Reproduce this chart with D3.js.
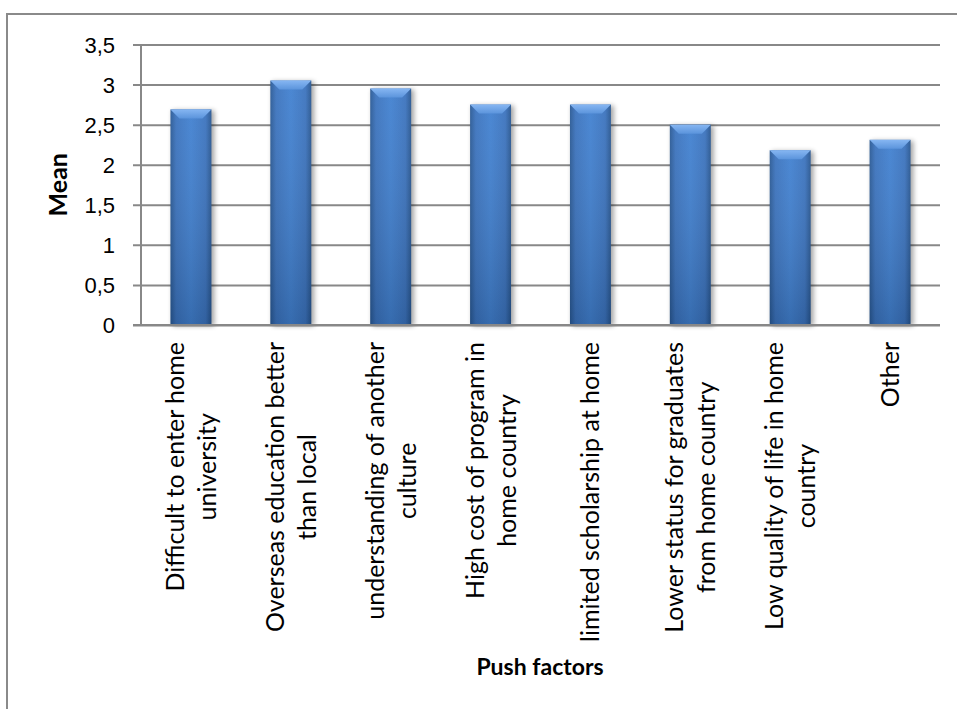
<!DOCTYPE html>
<html>
<head>
<meta charset="utf-8">
<script src="https://cdnjs.cloudflare.com/ajax/libs/d3/7.8.5/d3.min.js"></script>
<style>
  html, body { margin: 0; padding: 0; background: #fff; }
  svg { display: block; font-family: Lato, "Open Sans", sans-serif; }
</style>
</head>
<body>
<div id="chart"></div>
<script>
// push factors, mean score
var categories = [
  ["Difficult to enter home", "university"],
  ["Overseas education better", "than local"],
  ["understanding of another", "culture"],
  ["High cost of program in", "home country"],
  ["limited scholarship at home"],
  ["Lower status for graduates", "from home country"],
  ["Low quality of life in home", "country"],
  ["Other"]
]
var means = [2.69, 3.05, 2.95, 2.75, 2.75, 2.5, 2.18, 2.31]
var yTicks = [0, 0.5, 1, 1.5, 2, 2.5, 3, 3.5]
var yTickLabels = ["0", "0,5", "1", "1,5", "2", "2,5", "3", "3,5"]
var yTitle = "Mean"
var xTitle = "Push factors"

var svgWidth = 957, svgHeight = 709;
var plot = {left: 141, right: 940, top: 44.5, bottom: 325};

var svg = d3.select("#chart").append("svg")
  .attr("width", svgWidth)
  .attr("height", svgHeight);

svg.append("rect").attr("width", svgWidth).attr("height", svgHeight).attr("fill", "#fff");

// outer chart border (right/bottom run off the picture)
svg.append("rect")
  .attr("x", 7).attr("y", 14)
  .attr("width", 1000).attr("height", 760)
  .attr("fill", "none")
  .attr("stroke", "#8a8a8a")
  .attr("stroke-width", 2);

var defs = svg.append("defs");
var hg = defs.append("linearGradient").attr("id", "barH").attr("x1", 0).attr("x2", 1).attr("y1", 0).attr("y2", 0);
[["0%", "#285894"], ["14%", "#3a72bd"], ["50%", "#4080d0"], ["86%", "#3a72bd"], ["100%", "#265590"]]
  .forEach(s => hg.append("stop").attr("offset", s[0]).attr("stop-color", s[1]));
var vg = defs.append("linearGradient").attr("id", "barV").attr("x1", 0).attr("x2", 0).attr("y1", 0).attr("y2", 1);
[["0%", "#ffffff", 0.06], ["100%", "#000000", 0.16]]
  .forEach(s => vg.append("stop").attr("offset", s[0]).attr("stop-color", s[1]).attr("stop-opacity", s[2]));
var tg = defs.append("linearGradient").attr("id", "bevel").attr("x1", 0).attr("x2", 0).attr("y1", 0).attr("y2", 1);
[["0%", "#86b6f2"], ["100%", "#5b94dc"]]
  .forEach(s => tg.append("stop").attr("offset", s[0]).attr("stop-color", s[1]));
var sh = defs.append("filter").attr("id", "shadow").attr("x", "-20%").attr("y", "-10%").attr("width", "150%").attr("height", "130%");
sh.append("feGaussianBlur").attr("stdDeviation", 2.5);

var xScale = d3.scaleBand()
  .domain(d3.range(categories.length))
  .range([plot.left, plot.right])
  .paddingInner(0.59)
  .paddingOuter(0.295);

var yScale = d3.scaleLinear()
  .domain([0, 3.5])
  .range([plot.bottom, plot.top]);

// gridlines + left ticks
var yAxis = d3.axisLeft(yScale)
  .tickValues(yTicks)
  .tickSize(-(plot.right - plot.left))
  .tickSizeOuter(0)
  .tickFormat((d, i) => yTickLabels[i]);

var yg = svg.append("g")
  .attr("transform", `translate(${plot.left},0)`)
  .call(yAxis);
yg.select(".domain").remove();
yg.selectAll(".tick line")
  .attr("x1", -8)
  .attr("stroke", "#888")
  .attr("stroke-width", 2);
yg.selectAll(".tick text")
  .attr("x", -26)
  .attr("dy", "0.35em")
  .attr("fill", "#000")
  .style("font-size", "22px");

// vertical axis line
svg.append("line")
  .attr("x1", plot.left).attr("x2", plot.left)
  .attr("y1", yScale(3.5)).attr("y2", yScale(0))
  .attr("stroke", "#888").attr("stroke-width", 2);

// bars
var bars = svg.append("g").selectAll("g")
  .data(means)
  .enter()
  .append("g");

var bw = xScale.bandwidth();
var bev = 9;

bars.append("rect")
  .attr("x", (d, i) => xScale(i) + 2)
  .attr("y", d => yScale(d) + 1)
  .attr("width", bw + 1)
  .attr("height", d => yScale(0) - yScale(d))
  .attr("fill", "#000")
  .attr("opacity", 0.35)
  .attr("filter", "url(#shadow)");

bars.append("rect")
  .attr("x", (d, i) => xScale(i))
  .attr("y", d => yScale(d))
  .attr("width", bw)
  .attr("height", d => yScale(0) - yScale(d))
  .attr("fill", "url(#barH)");

bars.append("rect")
  .attr("x", (d, i) => xScale(i))
  .attr("y", d => yScale(d))
  .attr("width", bw)
  .attr("height", d => yScale(0) - yScale(d))
  .attr("fill", "url(#barV)");

bars.append("polygon")
  .attr("points", (d, i) => {
    var x0 = xScale(i), y0 = yScale(d);
    return [[x0, y0], [x0 + bw, y0], [x0 + bw - bev, y0 + bev], [x0 + bev, y0 + bev]].join(" ");
  })
  .attr("fill", "url(#bevel)");

// x axis line
svg.append("line")
  .attr("x1", plot.left - 8).attr("x2", plot.right)
  .attr("y1", yScale(0)).attr("y2", yScale(0))
  .attr("stroke", "#888").attr("stroke-width", 2);

// category labels, rotated, lines centred on each other
var labelTop = 342;
var lineGap = 32;
var labels = svg.append("g").selectAll("g")
  .data(categories)
  .enter()
  .append("g");

labels.each(function(lines, i) {
  var g = d3.select(this);
  var cx = xScale(i) + bw / 2;
  var n = lines.length;
  var texts = lines.map((t, k) => g.append("text")
    .style("font-size", "25px")
    .attr("fill", "#000")
    .attr("text-anchor", "middle")
    .text(t));
  var maxLen = d3.max(texts, t => t.node().getComputedTextLength());
  var cy = labelTop + maxLen / 2;
  texts.forEach((t, k) => {
    var bx = cx + 9 + (k - (n - 1) / 2) * lineGap;
    t.attr("transform", `translate(${bx},${cy}) rotate(-90)`);
  });
});

// axis titles
svg.append("text")
  .attr("transform", `translate(67,${(plot.top + plot.bottom) / 2}) rotate(-90)`)
  .attr("text-anchor", "middle")
  .style("font-size", "25px")
  .style("font-weight", "bold")
  .text(yTitle);

svg.append("text")
  .attr("x", 540)
  .attr("y", 675)
  .attr("text-anchor", "middle")
  .style("font-size", "23px")
  .style("font-weight", "bold")
  .text(xTitle);
</script>
</body>
</html>
